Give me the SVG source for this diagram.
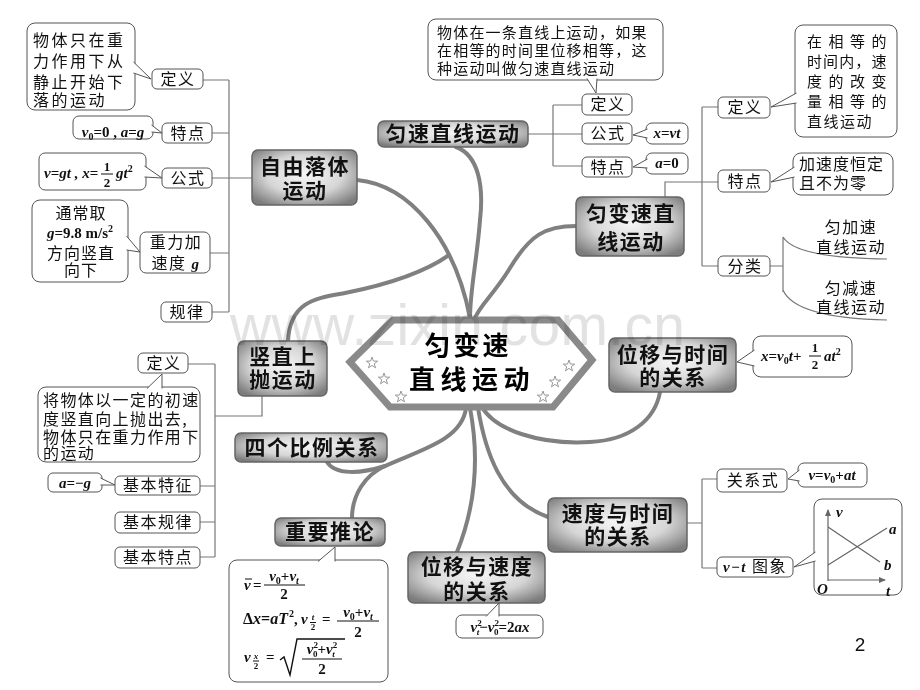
<svg xmlns="http://www.w3.org/2000/svg" width="920" height="690" viewBox="0 0 920 690">
<style>
.mt{font-family:"Noto Sans CJK SC","Noto Sans",sans-serif;font-weight:700;font-size:21px;text-anchor:middle;letter-spacing:1.5px;fill:#111}
.st{font-family:"Noto Sans CJK SC","Noto Sans",sans-serif;font-size:16px;text-anchor:middle;letter-spacing:1.5px;fill:#111}
.ct{font-family:"Noto Sans CJK SC","Noto Sans",sans-serif;font-size:15px;letter-spacing:1.5px;fill:#111}
.f{font-family:"Liberation Serif",serif;font-style:italic;font-weight:700;font-size:15px;fill:#111}
.r{font-style:normal}
.s9{font-size:9px}
.s10{font-size:10px}
.s13{font-size:13px}
.mb{fill:url(#mg);stroke:#666;stroke-width:1.5}
.sb{fill:#fff;stroke:#555;stroke-width:1}
.cb{fill:#fff;stroke:#555;stroke-width:1}
.tl{fill:#fff;stroke:#555;stroke-width:1;stroke-linejoin:round}
.th{fill:none;stroke:#808080;stroke-width:4;stroke-linecap:round}
.ln{fill:none;stroke:#777;stroke-width:1.2}
.fl{stroke:#111;stroke-width:1;fill:none}
.star{fill:#fff;stroke:#999;stroke-width:1}
</style>
<defs>
<radialGradient id="mg" cx="50%" cy="45%" r="65%">
<stop offset="0" stop-color="#f6f6f6"/>
<stop offset="0.55" stop-color="#d6d6d6"/>
<stop offset="1" stop-color="#7d7d7d"/>
</radialGradient>
<path id="stp" d="M0,-6 L1.41,-1.94 L5.71,-1.85 L2.28,0.74 L3.53,4.85 L0,2.4 L-3.53,4.85 L-2.28,0.74 L-5.71,-1.85 L-1.41,-1.94 Z"/>
<marker id="ar" markerWidth="8" markerHeight="8" refX="6" refY="3" orient="auto" markerUnits="userSpaceOnUse"><path d="M0,0 L7,3 L0,6 Z" fill="#666"/></marker>
</defs>
<rect width="920" height="690" fill="#fff"/>

<g id="connectors">
<path class="th" d="M357,180 C410,185 455,240 470,318"/>
<path class="th" d="M456,147 C478,155 484,185 480,220 C477,260 470,290 470,318"/>
<path class="th" d="M288,341 C290,300 318,298 345,293 C385,285 425,272 449,255"/>
<path class="th" d="M576,226 C545,226 530,235 510,268 C495,293 480,305 475,318"/>
<path class="th" d="M482,407 C495,430 540,445 590,442 C630,440 655,420 660,392"/>
<path class="th" d="M478,408 C485,450 500,500 548,517"/>
<path class="th" d="M470,408 C478,450 478,500 457,552"/>
<path class="th" d="M466,408 C462,440 420,450 385,466"/>
<path class="th" d="M327,462 C335,475 360,474 385,466"/>
<path class="th" d="M385,466 C365,475 352,495 352,518"/>
<path class="ln" d="M229,80 V312 M203,80 H229 M212,133 H229 M212,178 H252 M210,253 H229 M212,312 H229"/>
<path class="ln" d="M215,364 V557 M188,364 H215 M215,416 H262 V396 M200,486 H215 M200,522 H215 M200,557 H215"/>
<path class="ln" d="M528,134 H582 M553,105 V166 M553,105 H582 M553,166 H582"/>
<path class="ln" d="M702,107 V266 M702,107 H718 M702,266 H718 M665,197 V182 H718"/>
<path class="ln" d="M770,266 H783 M783,237 V292 M783,237 Q795,258 887,259 M783,290 Q795,318 887,320"/>
<path class="ln" d="M687,523 H702 M702,479 V568 M702,479 H717 M702,568 H717"/>
</g>

<g id="center">
<polygon points="393,320 558,320 592,360 553,407 390,407 350,362" fill="#fff" stroke="#8a8a8a" stroke-width="7" stroke-linejoin="miter"/>
<use href="#stp" class="star" x="372" y="363"/>
<use href="#stp" class="star" x="384" y="379"/>
<use href="#stp" class="star" x="401" y="397"/>
<use href="#stp" class="star" x="569" y="366"/>
<use href="#stp" class="star" x="555" y="382"/>
<use href="#stp" class="star" x="543" y="397"/>
<text x="468" y="355" style="font-family:'Noto Sans CJK SC',sans-serif;font-weight:700;font-size:26px;text-anchor:middle;letter-spacing:3px">匀变速</text>
<text x="472" y="389" style="font-family:'Noto Sans CJK SC',sans-serif;font-weight:700;font-size:26px;text-anchor:middle;letter-spacing:5.5px">直线运动</text>
</g>

<g id="n-freefall"><rect class="mb" x="252" y="150" width="105" height="55" rx="6"/><text class="mt" x="305" y="174">自由落体</text><text class="mt" x="305" y="198">运动</text></g>
<g id="n-uniform"><rect class="mb" x="378" y="121" width="150" height="26" rx="6"/><text class="mt" x="453" y="141">匀速直线运动</text></g>
<g id="n-accel"><rect class="mb" x="576" y="197" width="108" height="59" rx="6"/><text class="mt" x="631" y="221">匀变速直</text><text class="mt" x="631" y="249">线运动</text></g>
<g id="n-vertical"><rect class="mb" x="238" y="341" width="89" height="55" rx="6"/><text class="mt" x="283" y="364">竖直上</text><text class="mt" x="283" y="387">抛运动</text></g>
<g id="n-ratio"><rect class="mb" x="235" y="433" width="152" height="29" rx="6"/><text class="mt" x="312" y="455">四个比例关系</text></g>
<g id="n-infer"><rect class="mb" x="275" y="518" width="110" height="28" rx="6"/><text class="mt" x="330" y="539">重要推论</text></g>
<g id="n-xv"><rect class="mb" x="408" y="552" width="137" height="51" rx="6"/><text class="mt" x="477" y="574">位移与速度</text><text class="mt" x="477" y="599">的关系</text></g>
<g id="n-vt"><rect class="mb" x="548" y="498" width="139" height="54" rx="6"/><text class="mt" x="618" y="521">速度与时间</text><text class="mt" x="618" y="544">的关系</text></g>
<g id="n-xt"><rect class="mb" x="609" y="338" width="127" height="54" rx="6"/><text class="mt" x="673" y="362">位移与时间</text><text class="mt" x="673" y="385">的关系</text></g>

<g id="ff-def"><rect class="sb" x="152" y="69" width="51" height="20" rx="5"/><text class="st" x="178" y="85">定义</text></g>
<g id="ff-def-c"><rect class="cb" x="27" y="23" width="108" height="87" rx="8"/><path class="tl" d="M133.5,62 L151,79 L133.5,73"/>
<text class="ct" x="33" y="46" style="font-size:16px;letter-spacing:2.5px">物体只在重</text>
<text class="ct" x="33" y="67" style="font-size:16px;letter-spacing:2.5px">力作用下从</text>
<text class="ct" x="33" y="88" style="font-size:16px;letter-spacing:2.5px">静止开始下</text>
<text class="ct" x="33" y="106" style="font-size:16px;letter-spacing:2.5px">落的运动</text></g>
<g id="ff-char"><rect class="sb" x="162" y="123" width="50" height="20" rx="5"/><text class="st" x="188" y="139">特点</text></g>
<g id="ff-char-c"><rect class="cb" x="73" y="116" width="80" height="23" rx="6"/><path class="tl" d="M151.5,125 L162,133 L151.5,132"/>
<text class="f" x="113" y="137" text-anchor="middle">v<tspan class="r s10" dy="3">0</tspan><tspan dy="-3" class="r">=0 , </tspan>a<tspan class="r">=</tspan>g</text></g>
<g id="ff-form"><rect class="sb" x="162" y="168" width="50" height="20" rx="5"/><text class="st" x="188" y="184">公式</text></g>
<g id="ff-form-c"><rect class="cb" x="39" y="153" width="107" height="37" rx="6"/><path class="tl" d="M144.5,166 L162,178 L144.5,177"/>
<text class="f" x="44" y="178">v<tspan class="r">=</tspan>gt , x<tspan class="r">=</tspan></text>
<text class="f r s13" x="107" y="171" text-anchor="middle">1</text><path class="fl" d="M101,174 H113"/><text class="f r s13" x="107" y="187" text-anchor="middle">2</text>
<text class="f" x="116" y="178">gt<tspan class="r s10" dy="-6">2</tspan></text></g>
<g id="ff-g"><rect class="sb" x="140" y="232" width="70" height="41" rx="6"/><text class="st" x="176" y="248">重力加</text><text class="st" x="176" y="269">速度 <tspan class="f">g</tspan></text></g>
<g id="ff-g-c"><rect class="cb" x="32" y="200" width="96" height="82" rx="8"/><path class="tl" d="M126.5,236 L140,252 L126.5,250"/>
<text class="ct" x="81" y="219" text-anchor="middle" style="font-size:16px;letter-spacing:1px">通常取</text>
<text class="f" x="80" y="238" text-anchor="middle">g<tspan class="r">=9.8 m/s</tspan><tspan class="r s10" dy="-6">2</tspan></text>
<text class="ct" x="81" y="259" text-anchor="middle" style="font-size:16px;letter-spacing:1px">方向竖直</text>
<text class="ct" x="81" y="276" text-anchor="middle" style="font-size:16px;letter-spacing:1px">向下</text></g>
<g id="ff-law"><rect class="sb" x="161" y="302" width="51" height="20" rx="5"/><text class="st" x="187" y="318">规律</text></g>

<g id="vu-def"><rect class="sb" x="138" y="353" width="50" height="20" rx="5"/><text class="st" x="164" y="369">定义</text></g>
<g id="vu-def-c"><rect class="cb" x="38" y="387" width="162" height="75" rx="8"/><path class="tl" d="M147,388.5 L162,374 L162,388.5"/>
<text class="ct" x="43" y="406" style="font-size:16px;letter-spacing:1.4px">将物体以一定的初速</text>
<text class="ct" x="43" y="425" style="font-size:16px;letter-spacing:1.4px">度竖直向上抛出去,</text>
<text class="ct" x="43" y="443" style="font-size:16px;letter-spacing:1.4px">物体只在重力作用下</text>
<text class="ct" x="43" y="459" style="font-size:16px;letter-spacing:1.4px">的运动</text></g>
<g id="vu-feat"><rect class="sb" x="115" y="476" width="85" height="19" rx="5"/><text class="st" x="158" y="491">基本特征</text></g>
<g id="vu-feat-c"><rect class="cb" x="48" y="473" width="54" height="19" rx="5"/><path class="tl" d="M100.5,478 L115,485 L100.5,485"/><text class="f" x="75" y="488" text-anchor="middle">a<tspan class="r">=−</tspan>g</text></g>
<g id="vu-law"><rect class="sb" x="115" y="512" width="85" height="21" rx="5"/><text class="st" x="158" y="528">基本规律</text></g>
<g id="vu-pt"><rect class="sb" x="115" y="547" width="85" height="21" rx="5"/><text class="st" x="158" y="563">基本特点</text></g>

<g id="inf-c"><rect class="cb" x="229" y="560" width="159" height="122" rx="8"/><path class="tl" d="M318,561.5 L335,547 L335,561.5"/>
<text class="f" x="244" y="590">v</text><path class="fl" d="M245,579 H252"/><text class="f r" x="253" y="590">=</text>
<text class="f" x="284" y="581" text-anchor="middle">v<tspan class="r s10" dy="3">0</tspan><tspan class="r" dy="-3">+</tspan>v<tspan class="s10" dy="3">t</tspan></text>
<path class="fl" d="M264,585 H305"/><text class="f r" x="284" y="599" text-anchor="middle">2</text>
<text class="f" x="243" y="624" style="font-size:16px"><tspan class="r">Δ</tspan>x<tspan class="r">=</tspan>aT</text>
<text class="f r s10" x="289" y="617">2</text><text class="f r" x="294" y="624">,</text>
<text class="f" x="301" y="624">v</text>
<text class="f s9" x="313" y="620" text-anchor="middle">t</text><path class="fl" d="M310,622.5 H316"/><text class="f r s9" x="313" y="630" text-anchor="middle">2</text>
<text class="f r" x="322" y="624">=</text>
<text class="f" x="358" y="617" text-anchor="middle">v<tspan class="r s10" dy="3">0</tspan><tspan class="r" dy="-3">+</tspan>v<tspan class="s10" dy="3">t</tspan></text>
<path class="fl" d="M337,621 H379"/><text class="f r" x="358" y="637" text-anchor="middle">2</text>
<text class="f" x="244" y="662">v</text>
<text class="f s9" x="256" y="659" text-anchor="middle">x</text><path class="fl" d="M253,661 H259"/><text class="f r s9" x="256" y="669" text-anchor="middle">2</text>
<text class="f r" x="266" y="662">=</text>
<path d="M280,660 L284,657 L290,675 L297,639 L345,639" fill="none" stroke="#111" stroke-width="1.4"/>
<text class="f" x="322" y="654" text-anchor="middle">v<tspan class="r s9" dy="-6">2</tspan><tspan class="r s9" dx="-5" dy="9">0</tspan><tspan class="r" dy="-3">+</tspan>v<tspan class="r s9" dy="-6">2</tspan><tspan class="s9" dx="-5" dy="9">t</tspan></text>
<path class="fl" d="M302,659 H342"/><text class="f r" x="322" y="674" text-anchor="middle">2</text></g>

<g id="xv-c"><rect class="cb" x="456" y="615" width="87" height="23" rx="6"/><path class="tl" d="M486,616.5 L499,603 L499,616.5"/>
<text class="f" x="500" y="632" text-anchor="middle">v<tspan class="r s9" dy="-6">2</tspan><tspan class="s9" dx="-5" dy="9">t</tspan><tspan class="r" dy="-3">−</tspan>v<tspan class="r s9" dy="-6">2</tspan><tspan class="r s9" dx="-5" dy="9">0</tspan><tspan class="r" dy="-3">=2</tspan>ax</text></g>

<g id="un-def"><rect class="sb" x="582" y="94" width="50" height="21" rx="5"/><text class="st" x="608" y="110">定义</text></g>
<g id="un-def-c"><rect class="cb" x="428" y="19" width="235" height="61" rx="8"/><path class="tl" d="M587,78.5 L596,93 L597,78.5"/>
<text class="ct" x="437" y="38" style="letter-spacing:1.2px">物体在一条直线上运动，如果</text>
<text class="ct" x="437" y="56" style="letter-spacing:1.2px">在相等的时间里位移相等，这</text>
<text class="ct" x="437" y="74" style="letter-spacing:1.2px">种运动叫做匀速直线运动</text></g>
<g id="un-form"><rect class="sb" x="582" y="123" width="50" height="21" rx="5"/><text class="st" x="608" y="139">公式</text></g>
<g id="un-form-c"><rect class="cb" x="646" y="123" width="42" height="21" rx="6"/><path class="tl" d="M647.5,129 L633,135 L647.5,138"/><text class="f" x="667" y="138" text-anchor="middle">x<tspan class="r">=</tspan>vt</text></g>
<g id="un-char"><rect class="sb" x="582" y="157" width="50" height="20" rx="5"/><text class="st" x="608" y="173">特点</text></g>
<g id="un-char-c"><rect class="cb" x="646" y="153" width="42" height="21" rx="6"/><path class="tl" d="M647.5,159 L633,167 L647.5,168"/><text class="f" x="667" y="168" text-anchor="middle">a<tspan class="r">=0</tspan></text></g>

<g id="ac-def"><rect class="sb" x="718" y="97" width="52" height="21" rx="5"/><text class="st" x="745" y="113">定义</text></g>
<g id="ac-def-c"><rect class="cb" x="795" y="25" width="102" height="112" rx="8"/><path class="tl" d="M796.5,93 L771,107 L796.5,103"/>
<text class="ct" x="807" y="47" textLength="81" lengthAdjust="spacing">在相等的</text>
<text class="ct" x="807" y="67" textLength="81" lengthAdjust="spacing">时间内，速</text>
<text class="ct" x="807" y="87" textLength="81" lengthAdjust="spacing">度的改变</text>
<text class="ct" x="807" y="107" textLength="81" lengthAdjust="spacing">量相等的</text>
<text class="ct" x="807" y="127">直线运动</text></g>
<g id="ac-char"><rect class="sb" x="718" y="170" width="52" height="22" rx="5"/><text class="st" x="745" y="187">特点</text></g>
<g id="ac-char-c"><rect class="cb" x="793" y="153" width="100" height="42" rx="8"/><path class="tl" d="M794.5,167 L771,182 L794.5,177"/>
<text class="ct" x="799" y="170" style="font-size:16px;letter-spacing:1px">加速度恒定</text>
<text class="ct" x="799" y="189" style="font-size:16px;letter-spacing:1px">且不为零</text></g>
<g id="ac-cls"><rect class="sb" x="718" y="256" width="52" height="20" rx="5"/><text class="st" x="745" y="272">分类</text></g>
<g id="ac-cls-items">
<text class="st" x="851" y="233">匀加速</text><text class="st" x="851" y="253">直线运动</text>
<text class="st" x="851" y="294">匀减速</text><text class="st" x="851" y="313">直线运动</text></g>

<g id="xt-c"><rect class="cb" x="753" y="336" width="99" height="41" rx="8"/><path class="tl" d="M754.5,350 L737,362 L754.5,366"/>
<text class="f" x="761" y="361">x<tspan class="r">=</tspan>v<tspan class="r s10" dy="3">0</tspan><tspan dy="-3">t</tspan><tspan class="r">+</tspan></text>
<text class="f r s13" x="815" y="352" text-anchor="middle">1</text><path class="fl" d="M809,356 H821"/><text class="f r s13" x="815" y="369" text-anchor="middle">2</text>
<text class="f" x="824" y="361">at<tspan class="r s10" dy="-6">2</tspan></text></g>

<g id="vt-rel"><rect class="sb" x="717" y="469" width="70" height="23" rx="5"/><text class="st" x="753" y="486">关系式</text></g>
<g id="vt-rel-c"><rect class="cb" x="798" y="463" width="69" height="24" rx="6"/><path class="tl" d="M799.5,470 L788,479 L799.5,481"/><text class="f" x="832" y="480" text-anchor="middle">v<tspan class="r">=</tspan>v<tspan class="r s10" dy="3">0</tspan><tspan class="r" dy="-3">+</tspan>at</text></g>
<g id="vt-graph"><rect class="sb" x="717" y="557" width="76" height="20" rx="5"/><text class="st" x="755" y="572"><tspan class="f">v</tspan><tspan class="f r">−</tspan><tspan class="f">t</tspan> 图象</text></g>
<g id="vt-graph-c"><rect class="cb" x="814" y="499" width="88" height="96" rx="8"/><path class="tl" d="M815.5,552 L794,567 L815.5,561"/>
<path d="M828,581 V510" stroke="#666" stroke-width="1.2" fill="none" marker-end="url(#ar)"/>
<path d="M828,580 H885" stroke="#666" stroke-width="1.2" fill="none" marker-end="url(#ar)"/>
<path d="M828,565 L887,528 M828,527 L880,562" stroke="#666" stroke-width="1.2" fill="none"/>
<text class="f" x="836" y="517">v</text><text class="f" x="889" y="534">a</text><text class="f" x="884" y="570">b</text>
<text class="f" x="817" y="594">O</text><text class="f" x="886" y="596">t</text></g>

<text x="860" y="651" style="font-family:'Liberation Sans',Arial,sans-serif;font-size:19px;text-anchor:middle;fill:#111">2</text>
<text x="230" y="345" textLength="455" style="font-family:'Liberation Sans',Arial,sans-serif;font-size:57px;fill:#e2e2e2;mix-blend-mode:multiply">www.zixin.com.cn</text>
</svg>
